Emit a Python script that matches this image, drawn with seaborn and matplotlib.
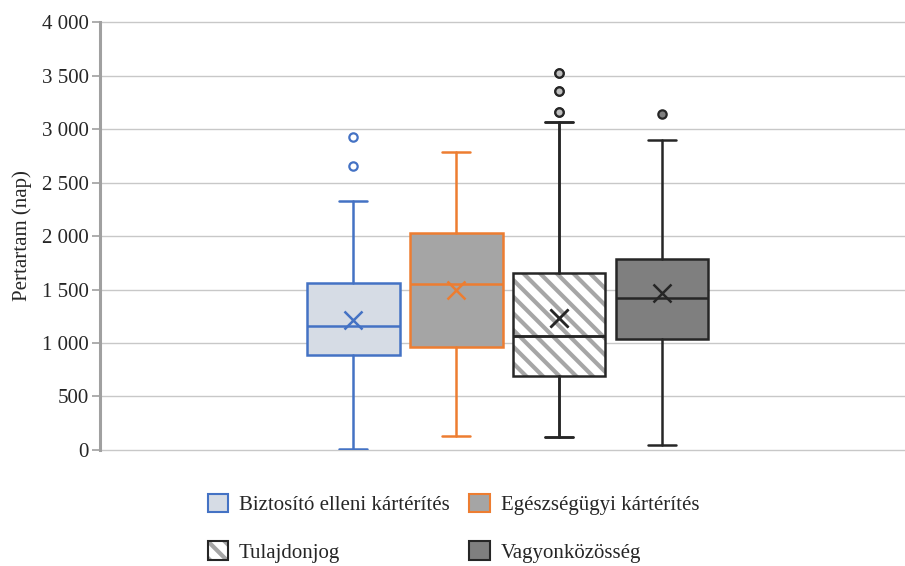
import numpy as np
import matplotlib
matplotlib.use("Agg")
import matplotlib.pyplot as plt
import seaborn as sns
from matplotlib.patches import Patch
from matplotlib.ticker import FuncFormatter, MultipleLocator

sns.set_style("white")
plt.rcParams['font.family'] = ['Liberation Serif', 'DejaVu Serif']
plt.rcParams['hatch.linewidth'] = 3.0

# box statistics (days)
categories = ['Biztosító elleni kártérítés', 'Egészségügyi kártérítés',
              'Tulajdonjog', 'Vagyonközösség']
whislo = [10, 134, 118, 47]
q1 = [888, 960, 695, 1035]
med = [1159, 1549, 1065, 1418]
q3 = [1560, 2025, 1651, 1785]
whishi = [2327, 2788, 3069, 2897]
means = [1215, 1495, 1231, 1470]
fliers = [[2654, 2925], [], [3162, 3352, 3520], [3137]]

# styling per box
edge_colors = ['#4472c4', '#ed7d31', '#262626', '#262626']
face_colors = ['#d6dce5', '#a5a5a5', 'white', '#7f7f7f']
hatches = [None, None, '\\\\', None]
flier_faces = ['white', 'white', '#bfbfbf', '#7f7f7f']
hatch_gray = '#a6a6a6'

fig = plt.figure(figsize=(9.05, 5.66), dpi=100)
ax = fig.add_axes([0.1105, 0.205, 0.8895, 0.756])

for i, cat in enumerate(categories):
    stats = [dict(label=cat, whislo=whislo[i], q1=q1[i], med=med[i], q3=q3[i],
                  whishi=whishi[i], mean=means[i], fliers=fliers[i])]
    ec = edge_colors[i]
    lw = 1.8
    common = dict(positions=[i], widths=0.9, capwidths=0.27, patch_artist=True,
                  showmeans=True,
                  whiskerprops=dict(color=ec, linewidth=lw),
                  capprops=dict(color=ec, linewidth=lw),
                  medianprops=dict(color=ec, linewidth=lw),
                  meanprops=dict(marker='x', markeredgecolor=ec, markersize=13,
                                 markeredgewidth=1.8, markerfacecolor='none'),
                  flierprops=dict(marker='o', markeredgecolor=ec, markersize=6,
                                  markerfacecolor=flier_faces[i], markeredgewidth=1.6),
                  manage_ticks=False)
    if hatches[i]:
        # hatch drawn in gray, then the dark outline on top
        ax.bxp(stats, boxprops=dict(facecolor=face_colors[i], edgecolor=hatch_gray,
                                    hatch=hatches[i], linewidth=0), **common)
        ax.bxp(stats, boxprops=dict(facecolor='none', edgecolor=ec, linewidth=lw),
               **common)
    else:
        ax.bxp(stats, boxprops=dict(facecolor=face_colors[i], edgecolor=ec, linewidth=lw),
               **common)

ax.set_xlim(-2.46, 5.36)
ax.set_ylim(0, 4000)
ax.yaxis.set_major_locator(MultipleLocator(500))
ax.yaxis.set_major_formatter(FuncFormatter(lambda v, p: f"{int(v):,}".replace(",", " ")))
ax.set_xticks([])
ax.grid(axis='y', color='#c8c8c8', linewidth=1)
for gl in ax.get_ygridlines():
    gl.set_clip_on(False)
ax.set_axisbelow(True)
for s in ['top', 'right', 'bottom']:
    ax.spines[s].set_visible(False)
ax.spines['left'].set_color('#a0a0a0')
ax.spines['left'].set_linewidth(2.2)
ax.tick_params(axis='y', left=True, length=6, width=1.2, color='#a0a0a0',
               labelsize=15, pad=2)
ax.set_ylabel('Pertartam (nap)', fontsize=15, labelpad=7)

handles = []
for i in range(4):
    if hatches[i]:
        h = (Patch(facecolor=face_colors[i], edgecolor=hatch_gray, hatch=hatches[i], linewidth=0),
             Patch(facecolor='none', edgecolor=edge_colors[i], linewidth=1.5))
    else:
        h = Patch(facecolor=face_colors[i], edgecolor=edge_colors[i], linewidth=1.5)
    handles.append(h)
order = [0, 2, 1, 3]
fig.legend([handles[i] for i in order], [categories[i] for i in order],
           ncol=2, loc='upper left', bbox_to_anchor=(0.2087, 0.1606), frameon=False,
           fontsize=15, handlelength=1.0, handleheight=1.0, handletextpad=0.5,
           columnspacing=0.95, labelspacing=1.25)

fig.savefig('out.png', dpi=100)
